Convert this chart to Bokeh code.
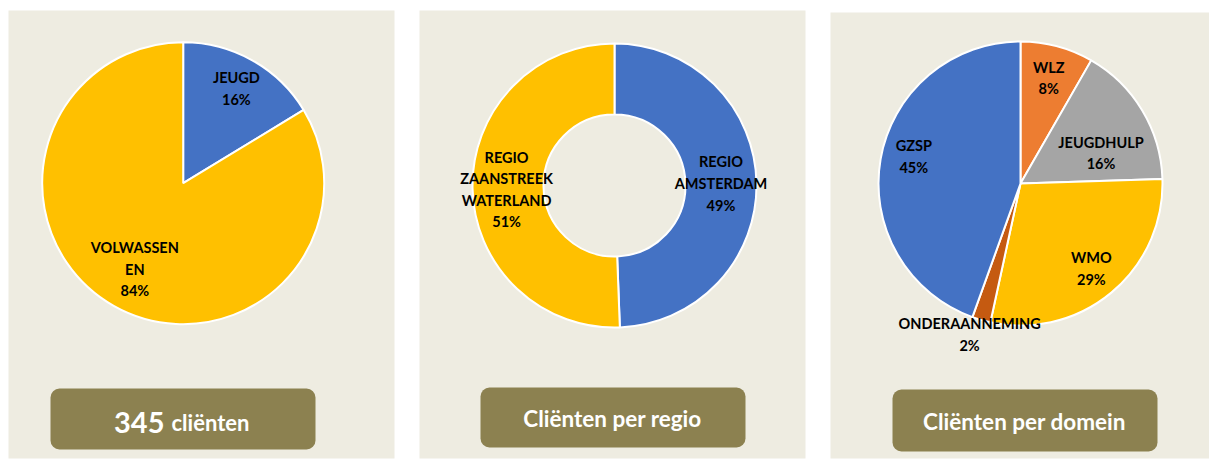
import numpy as np
from bokeh.plotting import figure
from bokeh.models import ColumnDataSource
from bokeh.core.properties import value
from bokeh.embed import file_html
from bokeh.resources import INLINE

# ---------------- data ----------------
leeftijd_labels = ["JEUGD", "VOLWASSEN\nEN"]
leeftijd_values = [16.3, 83.7]
leeftijd_pct = ["16%", "84%"]
leeftijd_colors = ["#4472C4", "#FFC000"]

regio_labels = ["REGIO\nAMSTERDAM", "REGIO\nZAANSTREEK\nWATERLAND"]
regio_values = [49.4, 50.6]
regio_pct = ["49%", "51%"]
regio_colors = ["#4472C4", "#FFC000"]

domein_labels = ["WLZ", "JEUGDHULP", "WMO", "ONDERAANNEMING", "GZSP"]
domein_values = [8.3, 16.2, 28.9, 2.1, 44.5]
domein_pct = ["8%", "16%", "29%", "2%", "45%"]
domein_colors = ["#ED7D31", "#A5A5A5", "#FFC000", "#C55A11", "#4472C4"]

total_clients = "345"
total_word = "cliënten"
box_titles = ["Cliënten per regio", "Cliënten per domein"]

# ---------------- style ----------------
BG = "#EEECE1"
BOX = "#8C8150"
FONT = "Lato"
H = 459  # page-pixel flip

p = figure(width=1209, height=459, x_range=(0, 1209), y_range=(0, 459),
           output_backend="svg", toolbar_location=None, min_border=0,
           x_axis_type=None, y_axis_type=None)
p.grid.visible = False
p.outline_line_color = None
p.background_fill_color = "white"
p.border_fill_color = "white"

# panels
panels = ColumnDataSource(dict(left=[8, 419, 830], right=[394, 805, 1209],
                               top=[H - 10, H - 10, H - 12], bottom=[H - 458] * 3))
p.quad(left="left", right="right", top="top", bottom="bottom", source=panels,
       fill_color=BG, line_color=None)

# label boxes
boxes = ColumnDataSource(dict(left=[50, 480, 892], right=[315, 745, 1157],
                              top=[H - 388, H - 387, H - 389], bottom=[H - 449, H - 447, H - 451]))
p.quad(left="left", right="right", top="top", bottom="bottom", source=boxes,
       fill_color=BOX, line_color=None, border_radius=9)


def draw_pie(cx, cy, r, values, colors, labels, pct, rf, nudge, inner=None):
    v = np.array(values, dtype=float)
    frac = v / v.sum()
    cum = np.cumsum(frac)
    start = np.pi / 2 - 2 * np.pi * (cum - frac)
    end = np.pi / 2 - 2 * np.pi * cum
    mid = np.pi / 2 - 2 * np.pi * (cum - frac / 2)
    src = ColumnDataSource(dict(start=start, end=end, color=colors))
    if inner is None:
        p.wedge(x=cx, y=cy, radius=r, start_angle="start", end_angle="end",
                direction="clock", fill_color="color", line_color="white",
                line_width=2, source=src)
    else:
        p.annular_wedge(x=cx, y=cy, inner_radius=inner, outer_radius=r,
                        start_angle="start", end_angle="end", direction="clock",
                        fill_color="color", line_color="white", line_width=2,
                        source=src)
    rf = np.array(rf)
    lx = cx + rf * r * np.cos(mid) + np.array([n[0] for n in nudge])
    ly = cy + rf * r * np.sin(mid) + np.array([n[1] for n in nudge])
    txt = [f"{a}\n{b}" for a, b in zip(labels, pct)]
    p.text(x=lx, y=ly, text=txt, text_align="center", text_baseline="middle",
           text_font=value(FONT), text_font_style="bold", text_font_size="14.5px",
           text_color="black", text_line_height=1.27)


draw_pie(182.7, H - 182.7, 141, leeftijd_values, leeftijd_colors, leeftijd_labels,
         leeftijd_pct, [0.77, 0.70], [(0, 0), (0, 0)])
draw_pie(614, H - 185, 142, regio_values, regio_colors, regio_labels,
         regio_pct, [0.75, 0.76], [(0, 0), (0, -2)], inner=71)
draw_pie(1020, H - 183, 142, domein_values, domein_colors, domein_labels,
         domein_pct, [0.77, 0.62, 0.78, 1.12, 0.77],
         [(0, 0), (5, -15), (0, 0), (-7, 2), (1, 8)])

# box texts
p.text(x=[164], y=[H - 422], text=[total_clients], text_align="right",
       text_baseline="alphabetic", text_font=value(FONT), text_font_style="bold",
       text_font_size="29px", text_color="white")
p.text(x=[171], y=[H - 422], text=[total_word], text_align="left",
       text_baseline="alphabetic", text_font=value(FONT), text_font_style="bold",
       text_font_size="22px", text_color="white")
p.text(x=[612, 1024], y=[H - 418, H - 421], text=box_titles, text_align="center",
       text_baseline="alphabetic", text_font=value(FONT), text_font_style="bold",
       text_font_size="22.5px", text_color="white")

open("out.html", "w").write(file_html(p, INLINE))
